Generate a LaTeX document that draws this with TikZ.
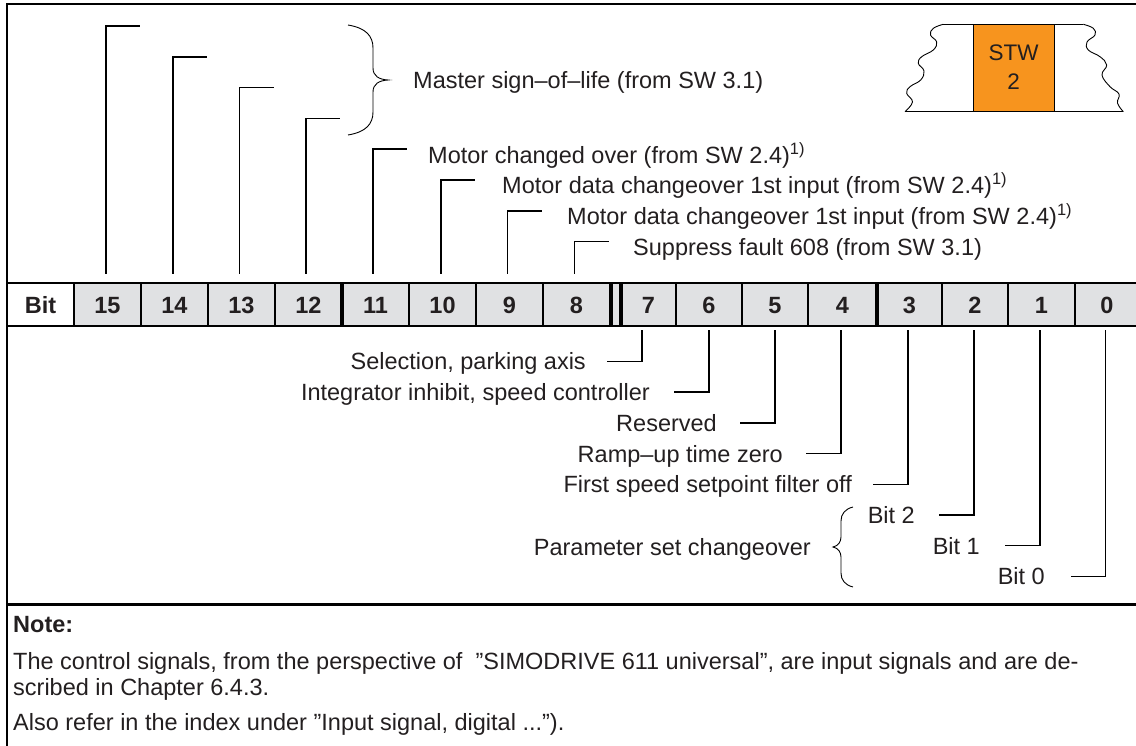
\documentclass[tikz,border=0pt]{standalone}
\usepackage{fontspec}
\setmainfont{Liberation Sans}
\definecolor{txt}{HTML}{231F20}
\definecolor{cellgray}{HTML}{E0E1E3}
\definecolor{stworange}{HTML}{F7941E}
\begin{document}
\begin{tikzpicture}[x=1pt,y=-1pt]
\tikzset{
  lbl/.style={font=\fontsize{23.5}{26}\selectfont, text=txt, inner sep=0pt},
  boldlbl/.style={font=\fontsize{23.5}{26}\selectfont\bfseries, text=txt, inner sep=0pt},
  lead/.style={draw=black, line width=1.5pt},
  thinline/.style={draw=black, line width=1.3pt},
  thickbar/.style={draw=black, line width=4pt},
  bracestyle/.style={draw=black, line width=0.9pt},
}
\useasboundingbox (0,0) rectangle (1136,746);

% frame
\draw[thinline] (7,746) -- (7,4) -- (1136,4);
\draw[thickbar, line width=3.5pt] (7,604.5) -- (1136,604.5);

% bit row
\fill[cellgray] (74,283) rectangle (1136,326);
\draw[thinline] (7,283) -- (1136,283);
\draw[thinline] (7,326) -- (1136,326);
\foreach \x in {74,141,208,275,409,476,543,676,742,808,942,1008,1075}
  \draw[thinline] (\x,283) -- (\x,326);
\foreach \x in {342,877,610.5,621}
  \draw[thickbar] (\x,283) -- (\x,326);

\node[boldlbl, anchor=base] (cbit) at (40.5,313) {Bit};
\foreach \b/\x in {15/107.5,14/174.5,13/241.5,12/308.5,11/375.5,10/442.5,9/509.5,8/576.5,
                   7/648.5,6/709,5/775,4/842.5,3/909.5,2/975,1/1041.5,0/1107}
  \node[boldlbl, anchor=base] (c\b) at (\x,313) {\b};

% leaders above the row
\foreach \b/\x/\y in {15/106/26,14/173/56.8,13/239.5/87.6,12/306/118.4,11/373/149.2,10/441/180,9/507.5/210.8,8/574.5/241.6}{
  \coordinate (ta\b) at (\x,274);
  \coordinate (tb\b) at ({\x+34},\y);
  \draw[lead] (ta\b) |- (tb\b);
}

% brace for master sign-of-life
\draw[bracestyle] (348,25) .. controls (366,28) and (373,36) .. (373,48) -- (373,68)
  .. controls (373,76) and (379,79.5) .. (388,80)
  .. controls (379,80.5) and (373,84) .. (373,92) -- (373,112)
  .. controls (373,124) and (366,132) .. (348,135);

\node[lbl, anchor=base west] (tmaster) at (413,88.4) {Master sign–of–life (from SW 3.1)};
\node[lbl, anchor=base west] (t11) at (428,163.5) {Motor changed over (from SW 2.4)\textsuperscript{1)}};
\node[lbl, anchor=base west] (t10) at (502,194) {Motor data changeover 1st input (from SW 2.4)\textsuperscript{1)}};
\node[lbl, anchor=base west] (t9) at (567,224.8) {Motor data changeover 1st input (from SW 2.4)\textsuperscript{1)}};
\node[lbl, anchor=base west] (t8) at (633,255.5) {Suppress fault 608 (from SW 3.1)};

% leaders below the row
\foreach \b/\x/\y in {7/642/361.5,6/709/392.2,5/775/422.9,4/841/453.6,3/908/484.3,2/974/515,1/1040/545.7,0/1105.5/576.4}{
  \coordinate (ba\b) at (\x,330);
  \coordinate (bb\b) at ({\x-35},\y);
  \draw[lead] (ba\b) |- (bb\b);
}

\node[lbl, anchor=base east] (b7) at (586,369.9) {Selection, parking axis};
\node[lbl, anchor=base east] (b6) at (650,400.6) {Integrator inhibit, speed controller};
\node[lbl, anchor=base east] (b5) at (717,431.3) {Reserved};
\node[lbl, anchor=base east] (b4) at (783,462) {Ramp–up time zero};
\node[lbl, anchor=base east] (b3) at (852,492.7) {First speed setpoint filter off};
\node[lbl, anchor=base east] (b2) at (915,523.4) {Bit 2};
\node[lbl, anchor=base east] (b1) at (980,554.1) {Bit 1};
\node[lbl, anchor=base east] (b0) at (1045,584.8) {Bit 0};

% brace for parameter set changeover
\draw[bracestyle] (853,507) .. controls (845,509) and (841,514) .. (841,521) -- (841,537)
  .. controls (841,542) and (838,546) .. (833,547)
  .. controls (838,548) and (841,552) .. (841,557) -- (841,573)
  .. controls (841,580) and (845,585) .. (853,587);
\node[lbl, anchor=base east] (bpar) at (811,555.4) {Parameter set changeover};

% STW icon
\fill[stworange] (973,24.3) rectangle (1054,111.7);
\draw[thinline, line width=1pt] (973,24.3) -- (973,111.7);
\draw[thinline, line width=1pt] (1054,24.3) -- (1054,111.7);
\draw[thinline, line width=1pt] (943.3,24.3) -- (1083.3,24.3);
\draw[thinline, line width=1pt] (905,111.7) -- (1123.3,111.7);
\draw[black, line width=0.9pt] plot[smooth, tension=0.7] coordinates {
  (943.3,24.3) (933.3,28.3) (930.5,35) (936.7,42) (933.3,50) (921.7,56.7)
  (918.3,63.3) (924,71) (920.7,80) (910,86.7) (906.7,93.3) (912.5,102) (905,111.7)};
\draw[black, line width=0.9pt] plot[smooth, tension=0.7] coordinates {
  (1083.3,24.3) (1093.3,28.3) (1095,35) (1087,42) (1088.3,50) (1100,56.7)
  (1106.7,65) (1102,75) (1110,86.7) (1119,94) (1117.5,103) (1123.3,111.7)};
\node[lbl, font=\fontsize{22.5}{26}\selectfont, anchor=base] (stw1) at (1013.5,61) {STW};
\node[lbl, font=\fontsize{22.5}{26}\selectfont, anchor=base] (stw2) at (1013.5,90) {2};

% note
\node[boldlbl, anchor=base west] (notehd) at (13,632) {Note:};
\node[lbl, anchor=base west] (note1) at (13,669) {The control signals, from the perspective of~ ”SIMODRIVE 611 universal”, are input signals and are de-};
\node[lbl, anchor=base west] (note2) at (13,695) {scribed in Chapter 6.4.3.};
\node[lbl, anchor=base west] (note3) at (13,730) {Also refer in the index under ”Input signal, digital ...”).};
\end{tikzpicture}
\end{document}
